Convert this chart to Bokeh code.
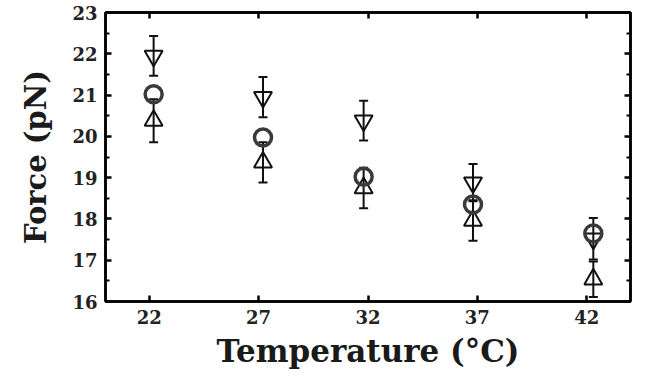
from bokeh.plotting import figure
from bokeh.models import (LinearAxis, FixedTicker, Whisker, ColumnDataSource, TeeHead,
                          Range1d, CustomLabelingPolicy)
from bokeh.embed import file_html
from bokeh.resources import INLINE

# ---- data ----
temp_ticks = [22, 27, 32, 37, 42]
x_pos = [22.2, 27.2, 31.8, 36.8, 42.3]
circle_force = [21.02, 19.97, 19.02, 18.35, 17.65]
down_force = [21.95, 20.95, 20.38, 18.88, 17.52]
down_err = [0.48, 0.49, 0.48, 0.45, 0.50]
up_force = [20.38, 19.37, 18.75, 17.96, 16.54]
up_err = [0.52, 0.49, 0.49, 0.49, 0.43]
force_ticks = [16, 17, 18, 19, 20, 21, 22, 23]
force_minor = [16.5, 17.5, 18.5, 19.5, 20.5, 21.5, 22.5]

FONT = "DejaVu Serif"

p = figure(width=634, height=371, output_backend="svg", toolbar_location=None,
           x_range=Range1d(20, 44), y_range=Range1d(16, 23),
           min_border_left=105, min_border_right=4, min_border_top=12, min_border_bottom=66)
p.grid.visible = False
p.background_fill_color = "white"
p.border_fill_color = "white"
p.outline_line_color = "black"
p.outline_line_width = 2.5

src_down = ColumnDataSource(dict(x=x_pos, y=down_force,
                                 lo=[a - b for a, b in zip(down_force, down_err)],
                                 hi=[a + b for a, b in zip(down_force, down_err)]))
src_up = ColumnDataSource(dict(x=x_pos, y=up_force,
                               lo=[a - b for a, b in zip(up_force, up_err)],
                               hi=[a + b for a, b in zip(up_force, up_err)]))
src_c = ColumnDataSource(dict(x=x_pos, y=circle_force))

for src in (src_down, src_up):
    w = Whisker(source=src, base="x", lower="lo", upper="hi", dimension="height",
                line_color="#111111", line_width=2,
                upper_head=TeeHead(size=9, line_color="#111111", line_width=2),
                lower_head=TeeHead(size=9, line_color="#111111", line_width=2))
    p.add_layout(w)

p.scatter("x", "y", source=src_down, marker="inverted_triangle", size=18,
          fill_color=None, line_color="#111111", line_width=2)
p.scatter("x", "y", source=src_up, marker="triangle", size=18,
          fill_color=None, line_color="#111111", line_width=2)
p.scatter("x", "y", source=src_c, marker="circle", size=17,
          fill_color=None, line_color="#3a3a3a", line_width=3.5)

xt = FixedTicker(ticks=temp_ticks, minor_ticks=[])
yt = FixedTicker(ticks=force_ticks, minor_ticks=force_minor)

def style(ax, labels=True):
    ax.axis_line_width = 2.5
    ax.axis_line_color = "black"
    ax.major_tick_in = 6
    ax.major_tick_out = 0
    ax.minor_tick_in = 4
    ax.minor_tick_out = 0
    ax.major_tick_line_width = 2.5
    ax.minor_tick_line_width = 2
    if labels:
        ax.major_label_text_font = FONT
        ax.major_label_text_font_size = "18px"
        ax.major_label_text_font_style = "bold"
        ax.major_label_text_color = "#222222"
        ax.major_label_standoff = 8
        ax.axis_label_text_font = FONT
        ax.axis_label_text_font_style = "bold"
        ax.axis_label_text_color = "#1a1a1a"
    else:
        ax.major_label_policy = CustomLabelingPolicy(
            code="const a = [...indices.ones()]; for (const i of a) indices.unset(i); return indices;")
        ax.major_label_text_font_size = "1px"
        ax.major_label_standoff = 0

p.xaxis.ticker = xt
p.yaxis.ticker = yt
style(p.xaxis[0])
style(p.yaxis[0])
p.xaxis.axis_label = "Temperature (°C)"
p.xaxis.axis_label_text_font_size = "31px"
p.xaxis.axis_label_standoff = 6
p.yaxis.axis_label = "Force (pN)"
p.yaxis.axis_label_text_font_size = "29px"
p.yaxis.axis_label_standoff = 16

top = LinearAxis(ticker=xt)
right = LinearAxis(ticker=yt)
style(top, False)
style(right, False)
p.add_layout(top, "above")
p.add_layout(right, "right")

open("out.html", "w").write(file_html(p, INLINE))
